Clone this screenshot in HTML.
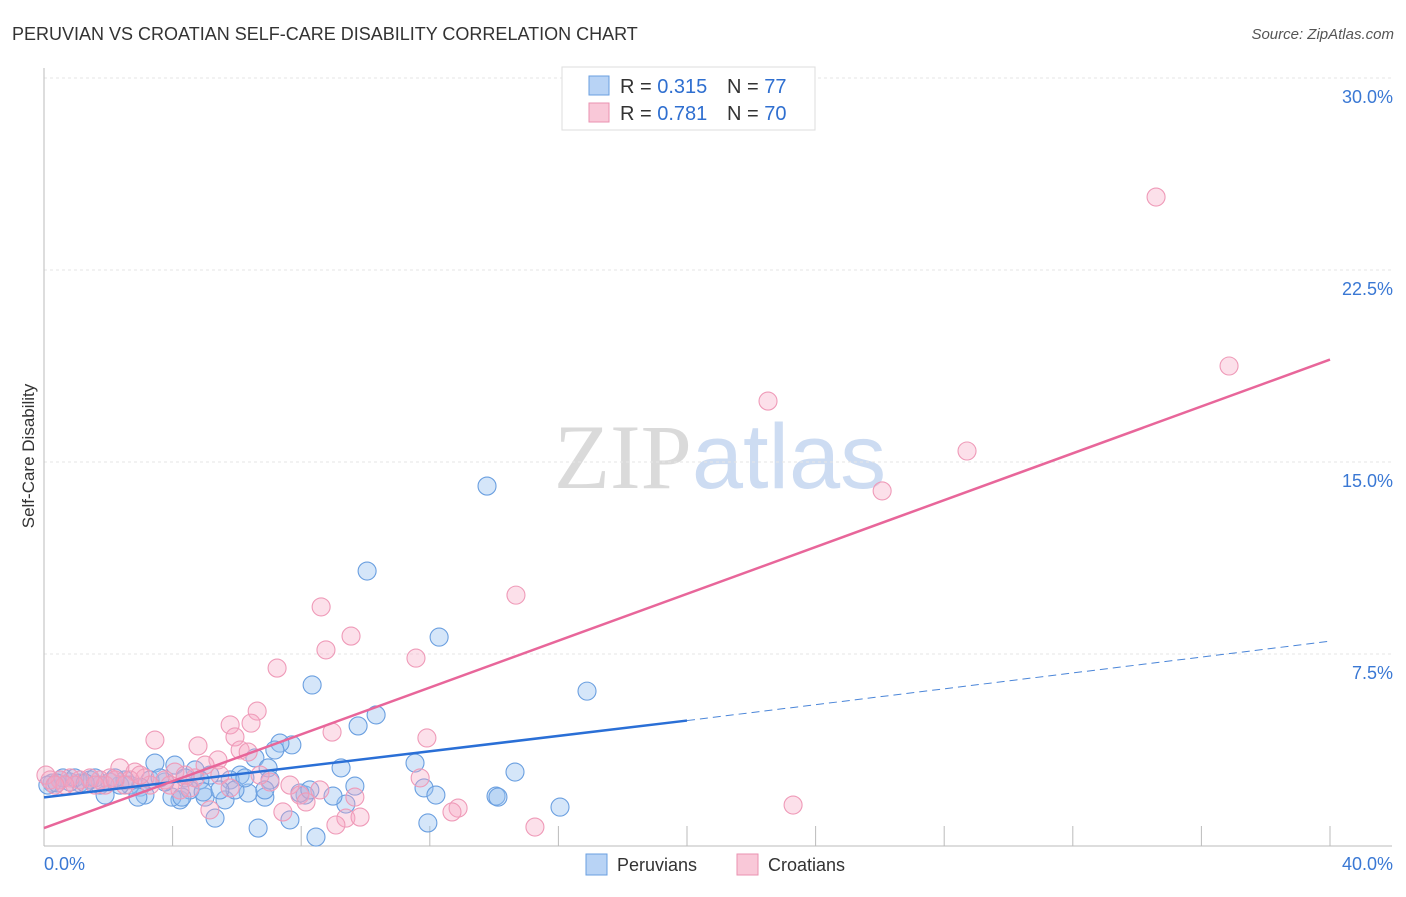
<!DOCTYPE html>
<html><head><meta charset="utf-8"><style>
body{margin:0;background:#fff;font-family:"Liberation Sans",sans-serif;}
svg text{font-family:"Liberation Sans",sans-serif;}
</style></head><body>
<svg width="1406" height="892" viewBox="0 0 1406 892" xmlns="http://www.w3.org/2000/svg">
<text x="12" y="40" font-size="18" fill="#333">PERUVIAN VS CROATIAN SELF-CARE DISABILITY CORRELATION CHART</text>
<text x="1394" y="39" font-size="15" fill="#555" text-anchor="end" font-style="italic">Source: ZipAtlas.com</text>
<text x="720" y="488" font-size="92" text-anchor="middle"><tspan fill="#dadada" font-family="Liberation Serif">ZIP</tspan><tspan fill="#cddcf2">atlas</tspan></text>
<g id="grid"></g>
<g id="axes"></g>
<g id="pts"></g>
<g id="lines"></g>
<text transform="translate(34,456) rotate(-90)" font-size="17" fill="#333" text-anchor="middle">Self-Care Disability</text>
<g>
<rect x="562" y="67" width="253" height="63" fill="#fff" stroke="#ddd"/>
<rect x="589" y="76" width="20" height="19" fill="#b8d3f5" stroke="#6a9fe0"/>
<rect x="589" y="103" width="20" height="19" fill="#f9c8d8" stroke="#ea92b0"/>
<text x="620" y="93" font-size="20" fill="#333">R = <tspan fill="#2f6fd0">0.315</tspan></text>
<text x="727" y="93" font-size="20" fill="#333">N = <tspan fill="#2f6fd0">77</tspan></text>
<text x="620" y="120" font-size="20" fill="#333">R = <tspan fill="#2f6fd0">0.781</tspan></text>
<text x="727" y="120" font-size="20" fill="#333">N = <tspan fill="#2f6fd0">70</tspan></text>
</g>
<g>
<rect x="586" y="854" width="21" height="21" fill="#b8d3f5" stroke="#6a9fe0"/>
<text x="617" y="871" font-size="18" fill="#333">Peruvians</text>
<rect x="737" y="854" width="21" height="21" fill="#f9c8d8" stroke="#ea92b0"/>
<text x="768" y="871" font-size="18" fill="#333">Croatians</text>
</g>
</svg>
<script>
const yTicks=[7.5,15,22.5,30];
const yTickLabels=["7.5%","15.0%","22.5%","30.0%"];
const xTicks=[0,4,8,12,16,20,24,28,32,36,40];
const blueX=[13.78,10.05,12.29,16.89,8.34,10.33,9.77,7.71,7.34,7.18,6.56,6.10,6.97,9.24,11.54,14.65,9.67,11.82,12.19,14.06,14.12,16.05,11.94,8.46,6.66,5.32,7.65,9.39,8.99,8.12,7.96,6.87,6.35,5.63,5.01,4.23,3.98,3.45,4.07,4.70,5.16,5.79,4.85,4.39,3.76,3.30,2.99,2.67,2.36,2.05,1.74,1.43,1.12,0.81,0.50,0.25,0.12,3.14,1.90,2.92,2.52,3.61,5.94,5.47,4.54,4.29,7.03,8.27,0.59,0.96,1.59,2.21,1.28,0.40,6.25,4.95,6.87];
const blueY=[14.06,10.74,8.16,6.05,6.29,5.12,4.69,3.95,4.02,3.75,3.44,2.77,3.05,3.05,3.24,2.89,2.34,2.27,1.99,1.95,1.91,1.52,0.90,0.35,0.70,1.09,1.02,1.64,1.95,1.99,2.07,1.91,2.07,1.80,1.91,1.80,1.91,3.24,3.16,2.97,2.77,2.58,2.58,2.66,2.50,2.58,2.30,2.38,2.38,2.50,2.38,2.58,2.46,2.50,2.58,2.46,2.38,1.99,1.99,1.91,2.58,2.66,2.19,2.19,2.19,1.91,2.58,2.19,2.66,2.66,2.66,2.66,2.46,2.46,2.66,2.11,2.19];
const pinkX=[34.59,36.86,22.52,28.71,26.07,14.68,8.62,9.55,11.57,7.25,8.77,6.63,6.44,5.79,5.94,8.96,11.91,3.45,4.79,6.10,6.35,5.41,5.01,4.07,2.83,2.36,5.47,7.03,7.65,7.96,8.15,8.58,9.67,11.70,12.88,12.69,9.39,9.08,9.83,15.27,23.30,7.43,5.16,5.79,4.54,3.76,3.14,2.67,2.05,1.74,1.43,1.12,0.81,0.50,0.19,0.06,3.30,2.52,1.90,3.92,4.23,6.72,4.70,4.39,2.99,2.21,1.59,0.96,0.65,0.34];
const pinkY=[25.35,18.75,17.38,15.43,13.87,9.80,9.34,8.20,7.34,6.95,7.66,5.27,4.80,4.73,4.26,4.45,4.22,4.14,3.91,3.75,3.67,3.36,3.16,2.89,2.89,3.05,2.77,2.50,2.38,1.99,1.72,2.19,1.91,2.66,1.48,1.33,1.09,0.82,1.13,0.74,1.60,1.33,1.41,2.27,2.27,2.58,2.66,2.58,2.66,2.58,2.66,2.58,2.66,2.58,2.58,2.77,2.38,2.38,2.38,2.38,2.19,2.77,2.66,2.77,2.77,2.58,2.38,2.38,2.38,2.38];
const blueTrend=[[0,1.9],[20,4.9],[40,8.0]];
const pinkTrend=[[0,0.7],[40,19.0]];
const NS="http://www.w3.org/2000/svg";
const xs=v=>44+v*32.15, ys=v=>846-v*25.6;
function mk(t,a,p){const e=document.createElementNS(NS,t);for(const k in a)e.setAttribute(k,a[k]);p.appendChild(e);return e;}
const grid=document.getElementById('grid'),axes=document.getElementById('axes'),pts=document.getElementById('pts'),lines=document.getElementById('lines');
yTicks.forEach((v,i)=>{
 const l=mk('line',{x1:44,x2:1392,y1:ys(v),y2:ys(v),stroke:'#e6e6e6','stroke-dasharray':'3,3'},grid);
 
 
 const t=mk('text',{x:1393,y:ys(v)+25,'font-size':18,fill:'#3a78d4','text-anchor':'end'},axes);
 t.textContent=yTickLabels[i];
 
 
});
mk('line',{x1:44,x2:44,y1:68,y2:846,stroke:'#bbb'},axes);
mk('line',{x1:44,x2:1392,y1:846,y2:846,stroke:'#bbb'},axes);
xTicks.forEach(v=>{const l=mk('line',{x1:xs(v),x2:xs(v),y1:826,y2:846,stroke:'#bbb'},axes);
 
 });
let t=mk('text',{x:44,y:870,'font-size':18,fill:'#3a78d4'},axes);t.textContent='0.0%';


t=mk('text',{x:1393,y:870,'font-size':18,fill:'#3a78d4','text-anchor':'end'},axes);t.textContent='40.0%';


blueX.forEach((v,i)=>{const c=mk('circle',{cx:xs(v),cy:ys(blueY[i]),r:9,fill:'rgba(150,192,240,0.4)',stroke:'#6a9fe0','stroke-width':1.1},pts);
 
 });
pinkX.forEach((v,i)=>{const c=mk('circle',{cx:xs(v),cy:ys(pinkY[i]),r:9,fill:'rgba(245,165,195,0.35)',stroke:'#ef9ab8','stroke-width':1.1},pts);
 
 });
let l=mk('line',{x1:xs(blueTrend[0][0]),y1:ys(blueTrend[0][1]),x2:xs(blueTrend[1][0]),y2:ys(blueTrend[1][1]),stroke:'#2a6fd6','stroke-width':2.5},lines);


l=mk('line',{x1:xs(blueTrend[1][0]),y1:ys(blueTrend[1][1]),x2:xs(blueTrend[2][0]),y2:ys(blueTrend[2][1]),stroke:'#4a85d8','stroke-width':1,'stroke-dasharray':'8,5'},lines);


l=mk('line',{x1:xs(pinkTrend[0][0]),y1:ys(pinkTrend[0][1]),x2:xs(pinkTrend[1][0]),y2:ys(pinkTrend[1][1]),stroke:'#e8669a','stroke-width':2.5},lines);


</script>
</body></html>
